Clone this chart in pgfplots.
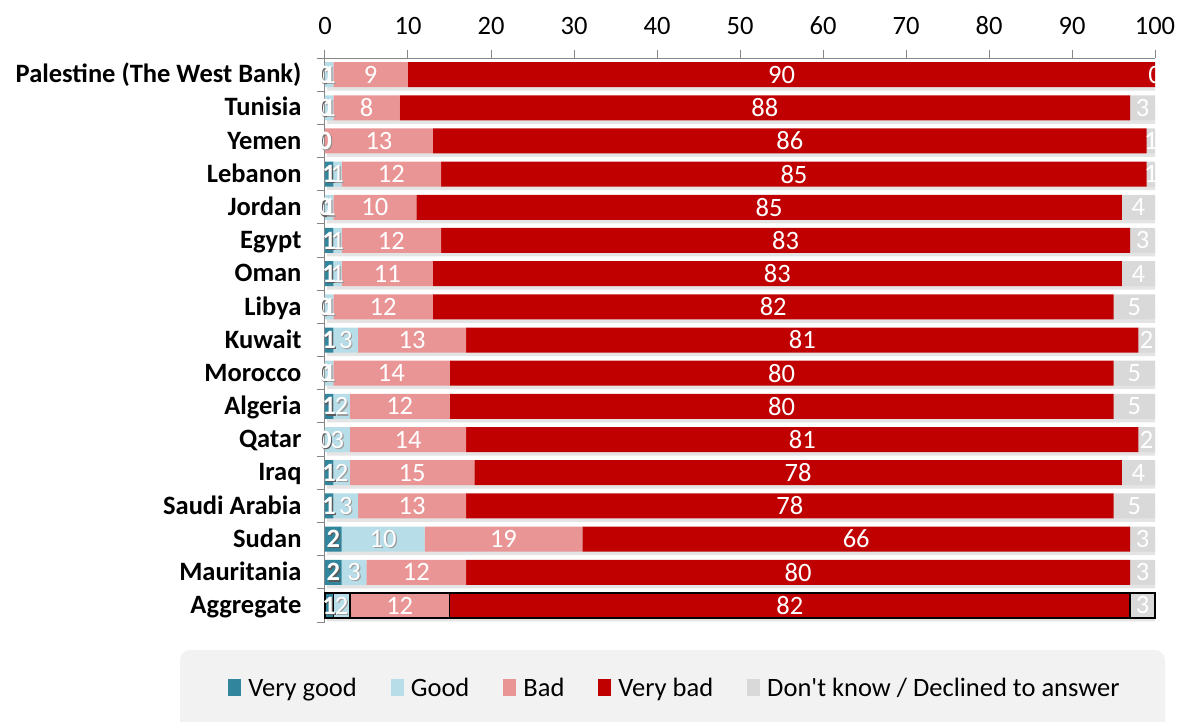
\documentclass[border=0pt]{standalone}
\usepackage{pgfplots}
\usepackage{pgfplotstable}
\pgfplotsset{compat=1.18}
\usepackage{fontspec}
\setmainfont{Carlito}[Ligatures=TeXOff]
\newcommand\bigfont{\fontsize{26.5}{30}\selectfont}
\definecolor{cVG}{HTML}{31859C}
\definecolor{cG}{HTML}{B7DEE8}
\definecolor{cB}{HTML}{EA9595}
\definecolor{cVB}{HTML}{C00000}
\definecolor{cDK}{HTML}{D9D9D9}
\definecolor{axg}{HTML}{868686}
\definecolor{legbg}{HTML}{F2F2F2}
\definecolor{shd}{HTML}{E4E4E4}
\definecolor{lblshd}{HTML}{5A5A5A}

\pgfplotstableread{
idx vg g b vb dk
0 0 1 9 90 0
1 0 1 8 88 3
2 0 0 13 86 1
3 1 1 12 85 1
4 0 1 10 85 4
5 1 1 12 83 3
6 1 1 11 83 4
7 0 1 12 82 5
8 1 3 13 81 2
9 0 1 14 80 5
10 1 2 12 80 5
11 0 3 14 81 2
12 1 2 15 78 4
13 1 3 13 78 5
14 2 10 19 66 3
15 2 3 12 80 3
16 1 2 12 82 3
}\data

\pgfplotsset{
  /pgf/number format/assume math mode=true,
  base/.style={scale only axis, width=830pt, height=564pt,
    at={(325pt,-622pt)}, anchor=south west,
    xmin=0, xmax=100, ymin=-0.5, ymax=16.5, y dir=reverse},
  lbl/.style={draw=none, mark=none, nodes near coords, point meta=explicit,
    every node near coord/.append style={anchor=center, font=\bigfont, text=white, inner sep=0pt}},
}

\begin{document}
\begin{tikzpicture}
\useasboundingbox (0pt,0pt) rectangle (1184pt,-721pt);
\fill[legbg, rounded corners=10pt] (180pt,-650pt) rectangle (1165pt,-780pt);

% shadow
\begin{axis}[base, hide axis, xbar, bar width=25pt, bar shift=0pt]
\addplot[fill=shd, draw=none, xshift=2pt, yshift=-3.5pt] table[x expr=\thisrow{vg}+\thisrow{g}+\thisrow{b}+\thisrow{vb}+\thisrow{dk}, y=idx]{\data};
\end{axis}

% main bars
\begin{axis}[base, xbar stacked, bar width=25pt,
  axis x line*=top, axis y line*=left,
  axis line style={axg, line width=1pt},
  tick style={axg, line width=1pt},
  tick align=outside, major tick length=8pt,
  xtick={0,10,...,100},
  xticklabel style={font=\bigfont, text height=0.63em, text depth=0pt, yshift=12pt},
  ytick={-0.5,0.5,...,16.5}, yticklabels={},
  extra y ticks={0,1,...,16},
  extra y tick labels={Palestine (The West Bank),Tunisia,Yemen,Lebanon,Jordan,Egypt,Oman,Libya,Kuwait,Morocco,Algeria,Qatar,Iraq,Saudi Arabia,Sudan,Mauritania,Aggregate},
  extra y tick style={major tick length=0pt, tick style={draw=none},
    yticklabel style={font=\bfseries\bigfont, text height=0.64em, text depth=0pt, xshift=-20pt, yshift=-5pt}},
  legend style={at={(0.4217,-0.117)}, anchor=center, draw=none, fill=none,
    font=\bigfont, /tikz/every even column/.append style={column sep=32pt},
    /tikz/every odd column/.append style={column sep=5pt}},
  legend columns=5,
  legend image code/.code={\fill[#1] (0pt,-8pt) rectangle (13pt,9pt);},
]
\addplot[fill=cVG, draw=none] table[x=vg, y=idx]{\data};
\addplot[fill=cG, draw=none] table[x=g, y=idx]{\data};
\addplot[fill=cB, draw=none] table[x=b, y=idx]{\data};
\addplot[fill=cVB, draw=none] table[x=vb, y=idx]{\data};
\addplot[fill=cDK, draw=none] table[x=dk, y=idx]{\data};
\legend{Very good,Good,Bad,Very bad,Don't know / Declined to answer}
\end{axis}

% outlines and labels
\begin{axis}[base, hide axis, clip=false]
\addplot[xbar, bar width=25pt, bar shift=0pt, fill=none, draw=black, line width=1.5pt, skip coords between index={0}{16}]
  table[x expr=\thisrow{vg}+\thisrow{g}+\thisrow{b}+\thisrow{vb}+\thisrow{dk}, y=idx]{\data};
\addplot[xbar, bar width=25pt, bar shift=0pt, fill=none, draw=black, line width=1.5pt, skip coords between index={0}{16}]
  table[x expr=\thisrow{vg}+\thisrow{g}+\thisrow{b}+\thisrow{vb}, y=idx]{\data};
\addplot[xbar, bar width=25pt, bar shift=0pt, fill=none, draw=black, line width=1.5pt, skip coords between index={0}{16}]
  table[x expr=\thisrow{vg}+\thisrow{g}+\thisrow{b}, y=idx]{\data};
\addplot[xbar, bar width=25pt, bar shift=0pt, fill=none, draw=black, line width=1.5pt, skip coords between index={0}{16}]
  table[x expr=\thisrow{vg}+\thisrow{g}, y=idx]{\data};
\addplot[xbar, bar width=25pt, bar shift=0pt, fill=none, draw=black, line width=1.5pt, skip coords between index={0}{16}]
  table[x expr=\thisrow{vg}, y=idx]{\data};
% label shadows
\addplot[lbl, every node near coord/.append style={text=lblshd, xshift=1.2pt, yshift=-1.2pt, font=\bfseries\bigfont}] table[x expr=\thisrow{vg}/2, y=idx, meta=vg]{\data};
\addplot[lbl, every node near coord/.append style={text=lblshd!60, xshift=1.2pt, yshift=-1.2pt}] table[x expr=\thisrow{vg}+\thisrow{g}/2, y=idx, meta=g]{\data};
% labels
\addplot[lbl, every node near coord/.append style={font=\bfseries\bigfont}] table[x expr=\thisrow{vg}/2, y=idx, meta=vg]{\data};
\addplot[lbl] table[x expr=\thisrow{vg}+\thisrow{g}/2, y=idx, meta=g]{\data};
\addplot[lbl] table[x expr=\thisrow{vg}+\thisrow{g}+\thisrow{b}/2, y=idx, meta=b]{\data};
\addplot[lbl] table[x expr=\thisrow{vg}+\thisrow{g}+\thisrow{b}+\thisrow{vb}/2, y=idx, meta=vb]{\data};
\addplot[lbl] table[x expr=\thisrow{vg}+\thisrow{g}+\thisrow{b}+\thisrow{vb}+\thisrow{dk}/2, y=idx, meta=dk]{\data};
\end{axis}
\end{tikzpicture}
\end{document}
